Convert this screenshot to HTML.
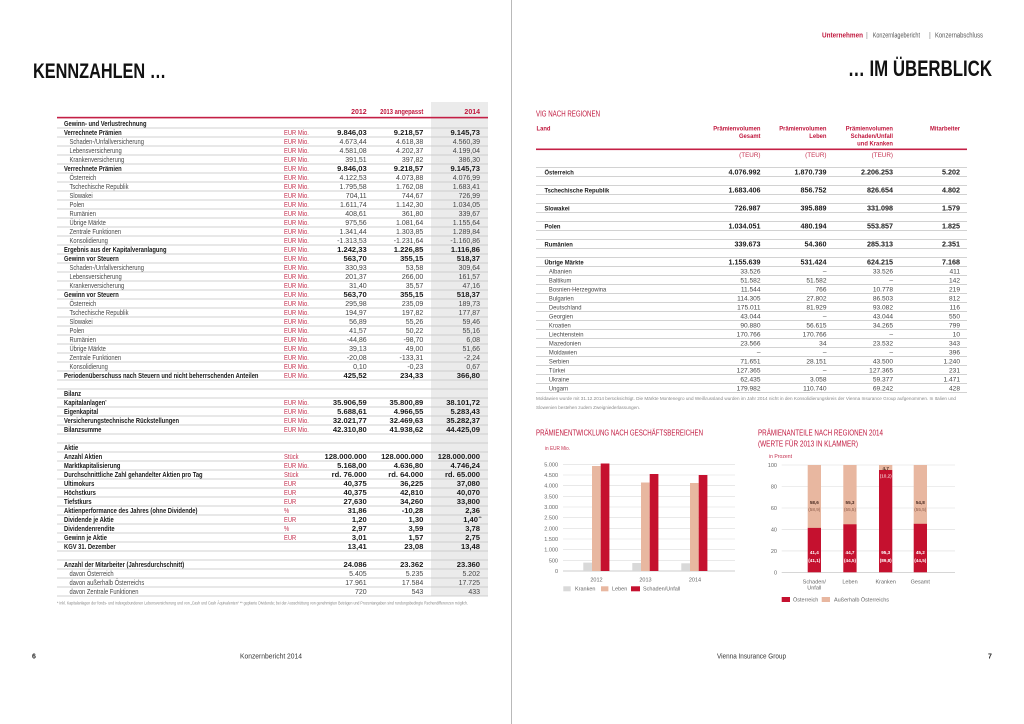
<!DOCTYPE html>
<html><head><meta charset="utf-8">
<style>html,body{margin:0;padding:0;background:#fff}svg{display:block}
.k{font-weight:bold;fill:#1a1a1a}
.rg{fill:#484848}
.nb{font-weight:bold;font-size:7.6px;fill:#1a1a1a}
.nr{font-size:7px;fill:#444}
.rb{font-weight:bold;font-size:7.2px;fill:#1a1a1a}
.rr{font-size:6.6px;fill:#444}
.red{fill:#c0173d}
.ax{font-size:5.5px;fill:#666}
</style></head>
<body>
<svg width="1024" height="724" viewBox="0 0 1024 724" font-family="'Liberation Sans', Arial, sans-serif">
<rect width="1024" height="724" fill="#fff"/>
<line x1="511.5" y1="0" x2="511.5" y2="724" stroke="#a8a8a8" stroke-width="0.8"/>

<!-- Titles -->
<text x="33" y="78" font-size="21.5" font-weight="bold" fill="#111" textLength="133" lengthAdjust="spacingAndGlyphs">KENNZAHLEN …</text>
<text x="848" y="76" font-size="22" font-weight="bold" fill="#111" textLength="144" lengthAdjust="spacingAndGlyphs">… IM ÜBERBLICK</text>

<!-- Nav -->
<text x="822" y="37.5" font-size="7" font-weight="bold" class="red" textLength="41" lengthAdjust="spacingAndGlyphs">Unternehmen</text>
<text x="866" y="37.5" font-size="7" fill="#888">|</text>
<text x="872.7" y="37.5" font-size="7" fill="#555" textLength="47.3" lengthAdjust="spacingAndGlyphs">Konzernlagebericht</text>
<text x="929" y="37.5" font-size="7" fill="#888">|</text>
<text x="935" y="37.5" font-size="7" fill="#555" textLength="48" lengthAdjust="spacingAndGlyphs">Konzernabschluss</text>

<!-- ============ LEFT TABLE ============ -->
<rect x="431" y="102" width="57" height="494" fill="#ebebeb"/>
<g font-size="7" font-weight="bold" class="red">
<text x="366.7" y="114" text-anchor="end">2012</text>
<g transform="translate(423.3 0) scale(.83 1)"><text x="0" y="114" text-anchor="end">2013 angepasst</text></g>
<text x="480" y="114" text-anchor="end">2014</text>
</g>
<rect x="57" y="116.8" width="431" height="1.6" fill="#c41f45"/>
<path fill="none" stroke="#c4c4c4" stroke-width="0.7" d="M57 128H488M57 137H488M57 146H488M57 155H488M57 164H488M57 173H488M57 182H488M57 191H488M57 200H488M57 209H488M57 218H488M57 227H488M57 236H488M57 245H488M57 254H488M57 263H488M57 272H488M57 281H488M57 290H488M57 299H488M57 308H488M57 317H488M57 326H488M57 335H488M57 344H488M57 353H488M57 362H488M57 371H488M57 380H488M57 389H488M57 398H488M57 407H488M57 416H488M57 425H488M57 434H488M57 443H488M57 452H488M57 461H488M57 470H488M57 479H488M57 488H488M57 497H488M57 506H488M57 515H488M57 524H488M57 533H488M57 542H488M57 551H488M57 560H488M57 569H488M57 578H488M57 587H488M57 596H488"/>

<g transform="translate(64 0) scale(.83 1)" font-size="7">
<text y="126" class="k">Gewinn- und Verlustrechnung</text>
<text y="135" class="k">Verrechnete Prämien</text>
<text x="6.6" y="144" class="rg">Schaden-/Unfallversicherung</text>
<text x="6.6" y="153" class="rg">Lebensversicherung</text>
<text x="6.6" y="162" class="rg">Krankenversicherung</text>
<text y="171" class="k">Verrechnete Prämien</text>
<text x="6.6" y="180" class="rg">Österreich</text>
<text x="6.6" y="189" class="rg">Tschechische Republik</text>
<text x="6.6" y="198" class="rg">Slowakei</text>
<text x="6.6" y="207" class="rg">Polen</text>
<text x="6.6" y="216" class="rg">Rumänien</text>
<text x="6.6" y="225" class="rg">Übrige Märkte</text>
<text x="6.6" y="234" class="rg">Zentrale Funktionen</text>
<text x="6.6" y="243" class="rg">Konsolidierung</text>
<text y="252" class="k">Ergebnis aus der Kapitalveranlagung</text>
<text y="261" class="k">Gewinn vor Steuern</text>
<text x="6.6" y="270" class="rg">Schaden-/Unfallversicherung</text>
<text x="6.6" y="279" class="rg">Lebensversicherung</text>
<text x="6.6" y="288" class="rg">Krankenversicherung</text>
<text y="297" class="k">Gewinn vor Steuern</text>
<text x="6.6" y="306" class="rg">Österreich</text>
<text x="6.6" y="315" class="rg">Tschechische Republik</text>
<text x="6.6" y="324" class="rg">Slowakei</text>
<text x="6.6" y="333" class="rg">Polen</text>
<text x="6.6" y="342" class="rg">Rumänien</text>
<text x="6.6" y="351" class="rg">Übrige Märkte</text>
<text x="6.6" y="360" class="rg">Zentrale Funktionen</text>
<text x="6.6" y="369" class="rg">Konsolidierung</text>
<text y="378" class="k">Periodenüberschuss nach Steuern und nicht beherrschenden Anteilen</text>
<text y="396" class="k">Bilanz</text>
<text y="405" class="k">Kapitalanlagen<tspan font-size="4" dy="-2.5">*</tspan></text>
<text y="414" class="k">Eigenkapital</text>
<text y="423" class="k">Versicherungstechnische Rückstellungen</text>
<text y="432" class="k">Bilanzsumme</text>
<text y="450" class="k">Aktie</text>
<text y="459" class="k">Anzahl Aktien</text>
<text y="468" class="k">Marktkapitalisierung</text>
<text y="477" class="k">Durchschnittliche Zahl gehandelter Aktien pro Tag</text>
<text y="486" class="k">Ultimokurs</text>
<text y="495" class="k">Höchstkurs</text>
<text y="504" class="k">Tiefstkurs</text>
<text y="513" class="k">Aktienperformance des Jahres (ohne Dividende)</text>
<text y="522" class="k">Dividende je Aktie</text>
<text y="531" class="k">Dividendenrendite</text>
<text y="540" class="k">Gewinn je Aktie</text>
<text y="549" class="k">KGV 31. Dezember</text>
<text y="567" class="k">Anzahl der Mitarbeiter (Jahresdurchschnitt)</text>
<text x="6.6" y="576" class="rg">davon Österreich</text>
<text x="6.6" y="585" class="rg">davon außerhalb Österreichs</text>
<text x="6.6" y="594" class="rg">davon Zentrale Funktionen</text>
</g>

<g transform="translate(284 0) scale(.83 1)" font-size="7" fill="#c4304f">
<text y="135">EUR Mio.</text><text y="144">EUR Mio.</text><text y="153">EUR Mio.</text><text y="162">EUR Mio.</text>
<text y="171">EUR Mio.</text><text y="180">EUR Mio.</text><text y="189">EUR Mio.</text><text y="198">EUR Mio.</text>
<text y="207">EUR Mio.</text><text y="216">EUR Mio.</text><text y="225">EUR Mio.</text><text y="234">EUR Mio.</text>
<text y="243">EUR Mio.</text><text y="252">EUR Mio.</text><text y="261">EUR Mio.</text><text y="270">EUR Mio.</text>
<text y="279">EUR Mio.</text><text y="288">EUR Mio.</text><text y="297">EUR Mio.</text><text y="306">EUR Mio.</text>
<text y="315">EUR Mio.</text><text y="324">EUR Mio.</text><text y="333">EUR Mio.</text><text y="342">EUR Mio.</text>
<text y="351">EUR Mio.</text><text y="360">EUR Mio.</text><text y="369">EUR Mio.</text><text y="378">EUR Mio.</text>
<text y="405">EUR Mio.</text><text y="414">EUR Mio.</text><text y="423">EUR Mio.</text><text y="432">EUR Mio.</text>
<text y="459">Stück</text><text y="468">EUR Mio.</text><text y="477">Stück</text><text y="486">EUR</text>
<text y="495">EUR</text><text y="504">EUR</text><text y="513">%</text><text y="522">EUR</text>
<text y="531">%</text><text y="540">EUR</text>
</g>

<!-- 2012 column -->
<g text-anchor="end">
<g transform="translate(366.7 0)">
<text y="135" class="nb">9.846,03</text><text y="144" class="nr">4.673,44</text><text y="153" class="nr">4.581,08</text><text y="162" class="nr">391,51</text>
<text y="171" class="nb">9.846,03</text><text y="180" class="nr">4.122,53</text><text y="189" class="nr">1.795,58</text><text y="198" class="nr">704,11</text>
<text y="207" class="nr">1.611,74</text><text y="216" class="nr">408,61</text><text y="225" class="nr">975,56</text><text y="234" class="nr">1.341,44</text>
<text y="243" class="nr">-1.313,53</text><text y="252" class="nb">1.242,33</text><text y="261" class="nb">563,70</text><text y="270" class="nr">330,93</text>
<text y="279" class="nr">201,37</text><text y="288" class="nr">31,40</text><text y="297" class="nb">563,70</text><text y="306" class="nr">295,98</text>
<text y="315" class="nr">194,97</text><text y="324" class="nr">56,89</text><text y="333" class="nr">41,57</text><text y="342" class="nr">-44,86</text>
<text y="351" class="nr">39,13</text><text y="360" class="nr">-20,08</text><text y="369" class="nr">0,10</text><text y="378" class="nb">425,52</text>
<text y="405" class="nb">35.906,59</text><text y="414" class="nb">5.688,61</text><text y="423" class="nb">32.021,77</text><text y="432" class="nb">42.310,80</text>
<text y="459" class="nb">128.000.000</text><text y="468" class="nb">5.168,00</text><text y="477" class="nb">rd. 76.000</text><text y="486" class="nb">40,375</text>
<text y="495" class="nb">40,375</text><text y="504" class="nb">27,630</text><text y="513" class="nb">31,86</text><text y="522" class="nb">1,20</text>
<text y="531" class="nb">2,97</text><text y="540" class="nb">3,01</text><text y="549" class="nb">13,41</text>
<text y="567" class="nb">24.086</text><text y="576" class="nr">5.405</text><text y="585" class="nr">17.961</text><text y="594" class="nr">720</text>
</g>
<g transform="translate(423.3 0)">
<text y="135" class="nb">9.218,57</text><text y="144" class="nr">4.618,38</text><text y="153" class="nr">4.202,37</text><text y="162" class="nr">397,82</text>
<text y="171" class="nb">9.218,57</text><text y="180" class="nr">4.073,88</text><text y="189" class="nr">1.762,08</text><text y="198" class="nr">744,67</text>
<text y="207" class="nr">1.142,30</text><text y="216" class="nr">361,80</text><text y="225" class="nr">1.081,64</text><text y="234" class="nr">1.303,85</text>
<text y="243" class="nr">-1.231,64</text><text y="252" class="nb">1.226,85</text><text y="261" class="nb">355,15</text><text y="270" class="nr">53,58</text>
<text y="279" class="nr">266,00</text><text y="288" class="nr">35,57</text><text y="297" class="nb">355,15</text><text y="306" class="nr">235,09</text>
<text y="315" class="nr">197,82</text><text y="324" class="nr">55,26</text><text y="333" class="nr">50,22</text><text y="342" class="nr">-98,70</text>
<text y="351" class="nr">49,00</text><text y="360" class="nr">-133,31</text><text y="369" class="nr">-0,23</text><text y="378" class="nb">234,33</text>
<text y="405" class="nb">35.800,89</text><text y="414" class="nb">4.966,55</text><text y="423" class="nb">32.469,63</text><text y="432" class="nb">41.938,62</text>
<text y="459" class="nb">128.000.000</text><text y="468" class="nb">4.636,80</text><text y="477" class="nb">rd. 64.000</text><text y="486" class="nb">36,225</text>
<text y="495" class="nb">42,810</text><text y="504" class="nb">34,260</text><text y="513" class="nb">-10,28</text><text y="522" class="nb">1,30</text>
<text y="531" class="nb">3,59</text><text y="540" class="nb">1,57</text><text y="549" class="nb">23,08</text>
<text y="567" class="nb">23.362</text><text y="576" class="nr">5.235</text><text y="585" class="nr">17.584</text><text y="594" class="nr">543</text>
</g>
<g transform="translate(480 0)">
<text y="135" class="nb">9.145,73</text><text y="144" class="nr">4.560,39</text><text y="153" class="nr">4.199,04</text><text y="162" class="nr">386,30</text>
<text y="171" class="nb">9.145,73</text><text y="180" class="nr">4.076,99</text><text y="189" class="nr">1.683,41</text><text y="198" class="nr">726,99</text>
<text y="207" class="nr">1.034,05</text><text y="216" class="nr">339,67</text><text y="225" class="nr">1.155,64</text><text y="234" class="nr">1.289,84</text>
<text y="243" class="nr">-1.160,86</text><text y="252" class="nb">1.116,86</text><text y="261" class="nb">518,37</text><text y="270" class="nr">309,64</text>
<text y="279" class="nr">161,57</text><text y="288" class="nr">47,16</text><text y="297" class="nb">518,37</text><text y="306" class="nr">189,73</text>
<text y="315" class="nr">177,87</text><text y="324" class="nr">59,46</text><text y="333" class="nr">55,16</text><text y="342" class="nr">6,08</text>
<text y="351" class="nr">51,66</text><text y="360" class="nr">-2,24</text><text y="369" class="nr">0,67</text><text y="378" class="nb">366,80</text>
<text y="405" class="nb">38.101,72</text><text y="414" class="nb">5.283,43</text><text y="423" class="nb">35.282,37</text><text y="432" class="nb">44.425,09</text>
<text y="459" class="nb">128.000.000</text><text y="468" class="nb">4.746,24</text><text y="477" class="nb">rd. 65.000</text><text y="486" class="nb">37,080</text>
<text y="495" class="nb">40,070</text><text y="504" class="nb">33,800</text><text y="513" class="nb">2,36</text><text x="-2" y="522" class="nb">1,40</text>
<text y="531" class="nb">3,78</text><text y="540" class="nb">2,75</text><text y="549" class="nb">13,48</text>
<text y="567" class="nb">23.360</text><text y="576" class="nr">5.202</text><text y="585" class="nr">17.725</text><text y="594" class="nr">433</text>
</g>
</g>
<text x="478.5" y="519" font-size="4" font-weight="bold" fill="#1a1a1a">**</text>

<text x="57" y="604.5" font-size="4.5" fill="#8a8a8a" textLength="411" lengthAdjust="spacingAndGlyphs">* Inkl. Kapitalanlagen der fonds- und indexgebundenen Lebensversicherung und von „Cash und Cash Äquivalenten“ ** geplante Dividende; bei der Ausschüttung von genehmigten Beträgen und Prozentangaben sind rundungsbedingte Rechendifferenzen möglich.</text>

<!-- ============ RIGHT TABLE ============ -->
<text x="536" y="116.5" font-size="8" class="red" textLength="64" lengthAdjust="spacingAndGlyphs">VIG NACH REGIONEN</text>
<g font-size="6.6" font-weight="bold" class="red">
<g transform="translate(536.5 0) scale(.89 1)"><text y="130.5">Land</text></g>
<g transform="translate(760.5 0) scale(.89 1)" text-anchor="end"><text y="130.5">Prämienvolumen</text><text y="138">Gesamt</text></g>
<g transform="translate(826.5 0) scale(.89 1)" text-anchor="end"><text y="130.5">Prämienvolumen</text><text y="138">Leben</text></g>
<g transform="translate(893 0) scale(.89 1)" text-anchor="end"><text y="130.5">Prämienvolumen</text><text y="138">Schaden/Unfall</text><text y="145.5">und Kranken</text></g>
<g transform="translate(960 0) scale(.89 1)" text-anchor="end"><text y="130.5">Mitarbeiter</text></g>
</g>
<rect x="536" y="148.5" width="431" height="1.6" fill="#c41f45"/>
<g font-size="6.3" fill="#c4304f" text-anchor="end">
<text x="760.5" y="157">(TEUR)</text><text x="826.5" y="157">(TEUR)</text><text x="893" y="157">(TEUR)</text>
</g>
<path fill="none" stroke="#c4c4c4" stroke-width="0.7" d="M536 167.5H967M536 176.5H967M536 185.5H967M536 194.5H967M536 203.5H967M536 212.5H967M536 221.5H967M536 230.5H967M536 239.5H967M536 248.5H967M536 257.5H967M536 266.5H967M536 275.5H967M536 284.5H967M536 293.5H967M536 302.5H967M536 311.5H967M536 320.5H967M536 329.5H967M536 338.5H967M536 347.5H967M536 356.5H967M536 365.5H967M536 374.5H967M536 383.5H967M536 392.5H967"/>

<g transform="translate(544.5 0) scale(.89 1)" font-size="6.6">
<text y="174.3" class="k">Österreich</text>
<text y="192.3" class="k">Tschechische Republik</text>
<text y="210.3" class="k">Slowakei</text>
<text y="228.3" class="k">Polen</text>
<text y="246.3" class="k">Rumänien</text>
<text y="264.3" class="k">Übrige Märkte</text>
<text x="5" y="273.3" class="rg">Albanien</text>
<text x="5" y="282.3" class="rg">Baltikum</text>
<text x="5" y="291.3" class="rg">Bosnien-Herzegowina</text>
<text x="5" y="300.3" class="rg">Bulgarien</text>
<text x="5" y="309.3" class="rg">Deutschland</text>
<text x="5" y="318.3" class="rg">Georgien</text>
<text x="5" y="327.3" class="rg">Kroatien</text>
<text x="5" y="336.3" class="rg">Liechtenstein</text>
<text x="5" y="345.3" class="rg">Mazedonien</text>
<text x="5" y="354.3" class="rg">Moldawien</text>
<text x="5" y="363.3" class="rg">Serbien</text>
<text x="5" y="372.3" class="rg">Türkei</text>
<text x="5" y="381.3" class="rg">Ukraine</text>
<text x="5" y="390.3" class="rg">Ungarn</text>
</g>

<g text-anchor="end">
<g transform="translate(760.5 0)">
<text y="174.3" class="rb">4.076.992</text><text y="192.3" class="rb">1.683.406</text><text y="210.3" class="rb">726.987</text><text y="228.3" class="rb">1.034.051</text><text y="246.3" class="rb">339.673</text><text y="264.3" class="rb">1.155.639</text>
<text y="273.3" class="rr">33.526</text><text y="282.3" class="rr">51.582</text><text y="291.3" class="rr">11.544</text><text y="300.3" class="rr">114.305</text><text y="309.3" class="rr">175.011</text><text y="318.3" class="rr">43.044</text><text y="327.3" class="rr">90.880</text><text y="336.3" class="rr">170.766</text><text y="345.3" class="rr">23.566</text><text y="354.3" class="rr">–</text><text y="363.3" class="rr">71.651</text><text y="372.3" class="rr">127.365</text><text y="381.3" class="rr">62.435</text><text y="390.3" class="rr">179.982</text>
</g>
<g transform="translate(826.5 0)">
<text y="174.3" class="rb">1.870.739</text><text y="192.3" class="rb">856.752</text><text y="210.3" class="rb">395.889</text><text y="228.3" class="rb">480.194</text><text y="246.3" class="rb">54.360</text><text y="264.3" class="rb">531.424</text>
<text y="273.3" class="rr">–</text><text y="282.3" class="rr">51.582</text><text y="291.3" class="rr">766</text><text y="300.3" class="rr">27.802</text><text y="309.3" class="rr">81.929</text><text y="318.3" class="rr">–</text><text y="327.3" class="rr">56.615</text><text y="336.3" class="rr">170.766</text><text y="345.3" class="rr">34</text><text y="354.3" class="rr">–</text><text y="363.3" class="rr">28.151</text><text y="372.3" class="rr">–</text><text y="381.3" class="rr">3.058</text><text y="390.3" class="rr">110.740</text>
</g>
<g transform="translate(893 0)">
<text y="174.3" class="rb">2.206.253</text><text y="192.3" class="rb">826.654</text><text y="210.3" class="rb">331.098</text><text y="228.3" class="rb">553.857</text><text y="246.3" class="rb">285.313</text><text y="264.3" class="rb">624.215</text>
<text y="273.3" class="rr">33.526</text><text y="282.3" class="rr">–</text><text y="291.3" class="rr">10.778</text><text y="300.3" class="rr">86.503</text><text y="309.3" class="rr">93.082</text><text y="318.3" class="rr">43.044</text><text y="327.3" class="rr">34.265</text><text y="336.3" class="rr">–</text><text y="345.3" class="rr">23.532</text><text y="354.3" class="rr">–</text><text y="363.3" class="rr">43.500</text><text y="372.3" class="rr">127.365</text><text y="381.3" class="rr">59.377</text><text y="390.3" class="rr">69.242</text>
</g>
<g transform="translate(960 0)">
<text y="174.3" class="rb">5.202</text><text y="192.3" class="rb">4.802</text><text y="210.3" class="rb">1.579</text><text y="228.3" class="rb">1.825</text><text y="246.3" class="rb">2.351</text><text y="264.3" class="rb">7.168</text>
<text y="273.3" class="rr">411</text><text y="282.3" class="rr">142</text><text y="291.3" class="rr">219</text><text y="300.3" class="rr">812</text><text y="309.3" class="rr">116</text><text y="318.3" class="rr">550</text><text y="327.3" class="rr">799</text><text y="336.3" class="rr">10</text><text y="345.3" class="rr">343</text><text y="354.3" class="rr">396</text><text y="363.3" class="rr">1.240</text><text y="372.3" class="rr">231</text><text y="381.3" class="rr">1.471</text><text y="390.3" class="rr">428</text>
</g>
</g>

<text x="536" y="400" font-size="4.5" fill="#8a8a8a" textLength="420" lengthAdjust="spacingAndGlyphs">Moldawien wurde mit 31.12.2014 berücksichtigt. Die Märkte Montenegro und Weißrussland wurden im Jahr 2014 nicht in den Konsolidierungskreis der Vienna Insurance Group aufgenommen. In Italien und</text>
<text x="536" y="409" font-size="4.5" fill="#8a8a8a" textLength="104" lengthAdjust="spacingAndGlyphs">Slowenien bestehen zudem Zweigniederlassungen.</text>

<!-- ============ CHART 1 ============ -->
<text x="536" y="435.3" font-size="8" class="red" textLength="167" lengthAdjust="spacingAndGlyphs">PRÄMIENENTWICKLUNG NACH GESCHÄFTSBEREICHEN</text>
<text x="545" y="450" font-size="5" fill="#c4304f" textLength="25" lengthAdjust="spacingAndGlyphs">in EUR Mio.</text>
<path fill="none" stroke="#dcdcdc" stroke-width="0.6" d="M563 464.3H735M563 475H735M563 485.6H735M563 496.3H735M563 507H735M563 517.7H735M563 528.3H735M563 539H735M563 549.7H735M563 560.3H735"/>
<line x1="563" y1="571" x2="735" y2="571" stroke="#bdbdbd" stroke-width="0.7"/>
<g class="ax" text-anchor="end">
<text x="558" y="466.3">5.000</text><text x="558" y="477">4.500</text><text x="558" y="487.6">4.000</text><text x="558" y="498.3">3.500</text><text x="558" y="509">3.000</text><text x="558" y="519.7">2.500</text><text x="558" y="530.3">2.000</text><text x="558" y="541">1.500</text><text x="558" y="551.7">1.000</text><text x="558" y="562.3">500</text><text x="558" y="573">0</text>
</g>
<rect x="583.3" y="562.6" width="8.7" height="8.4" fill="#d9d9d9"/>
<rect x="592" y="466" width="8.7" height="105" fill="#e8b7a0"/>
<rect x="600.7" y="463.5" width="8.7" height="107.5" fill="#c5112f"/>
<rect x="632.3" y="563" width="8.7" height="8" fill="#d9d9d9"/>
<rect x="641" y="482.5" width="8.7" height="88.5" fill="#e8b7a0"/>
<rect x="649.7" y="474" width="8.7" height="97" fill="#c5112f"/>
<rect x="681.3" y="563.3" width="8.7" height="7.7" fill="#d9d9d9"/>
<rect x="690" y="483" width="8.7" height="88" fill="#e8b7a0"/>
<rect x="698.7" y="475" width="8.7" height="96" fill="#c5112f"/>
<g class="ax" text-anchor="middle">
<text x="596.5" y="581.7">2012</text><text x="645.5" y="581.7">2013</text><text x="695" y="581.7">2014</text>
</g>
<rect x="563.3" y="586.3" width="7.4" height="5" fill="#d9d9d9"/>
<text x="575" y="590.7" class="ax">Kranken</text>
<rect x="601" y="586.3" width="7.4" height="5" fill="#e8b7a0"/>
<text x="612" y="590.7" class="ax">Leben</text>
<rect x="631" y="586.3" width="9" height="5" fill="#c5112f"/>
<text x="643" y="590.7" class="ax">Schaden/Unfall</text>

<!-- ============ CHART 2 ============ -->
<text x="758" y="435.3" font-size="8" class="red" textLength="125" lengthAdjust="spacingAndGlyphs">PRÄMIENANTEILE NACH REGIONEN 2014</text>
<text x="758" y="446.3" font-size="8" class="red" textLength="100" lengthAdjust="spacingAndGlyphs">(WERTE FÜR 2013 IN KLAMMER)</text>
<text x="769" y="458" font-size="5" fill="#c4304f" textLength="23" lengthAdjust="spacingAndGlyphs">in Prozent</text>
<path fill="none" stroke="#dcdcdc" stroke-width="0.6" d="M781.7 465H955M781.7 486.5H955M781.7 508H955M781.7 529.4H955M781.7 550.9H955"/>
<line x1="781.7" y1="572.3" x2="955" y2="572.3" stroke="#bdbdbd" stroke-width="0.7"/>
<g class="ax" text-anchor="end">
<text x="777" y="467">100</text><text x="777" y="488.5">80</text><text x="777" y="510">60</text><text x="777" y="531.4">40</text><text x="777" y="552.9">20</text><text x="777" y="574.3">0</text>
</g>
<rect x="807.7" y="465" width="13.3" height="63" fill="#e8b7a0"/>
<rect x="807.7" y="527.9" width="13.3" height="44.4" fill="#c5112f"/>
<rect x="843.3" y="465" width="13.3" height="59.5" fill="#e8b7a0"/>
<rect x="843.3" y="524.3" width="13.3" height="48" fill="#c5112f"/>
<rect x="879" y="465" width="13.3" height="5.2" fill="#e8b7a0"/>
<rect x="879" y="470" width="13.3" height="102.3" fill="#c5112f"/>
<rect x="913.7" y="465" width="13.3" height="59" fill="#e8b7a0"/>
<rect x="913.7" y="523.8" width="13.3" height="48.5" fill="#c5112f"/>
<g text-anchor="middle" font-size="4.6" font-weight="bold">
<text x="814.3" y="504" fill="#4a2b22">58,6</text><text x="814.3" y="510.8" fill="#8a5a48" font-weight="normal">(58,9)</text>
<text x="850" y="504" fill="#4a2b22">55,3</text><text x="850" y="510.8" fill="#8a5a48" font-weight="normal">(55,5)</text>
<text x="885.7" y="469.8" fill="#4a2b22">4,7</text><text x="885.7" y="477.6" fill="#fff" font-weight="normal">(10,2)</text>
<text x="920.3" y="504" fill="#4a2b22">54,8</text><text x="920.3" y="510.8" fill="#8a5a48" font-weight="normal">(55,5)</text>
<text x="814.3" y="554" fill="#fff">41,4</text><text x="814.3" y="561.8" fill="#fff">(41,1)</text>
<text x="850" y="554" fill="#fff">44,7</text><text x="850" y="561.8" fill="#fff">(44,5)</text>
<text x="885.7" y="554" fill="#fff">95,3</text><text x="885.7" y="561.8" fill="#fff">(89,8)</text>
<text x="920.3" y="554" fill="#fff">45,2</text><text x="920.3" y="561.8" fill="#fff">(44,5)</text>
</g>
<g class="ax" text-anchor="middle">
<text x="814.3" y="583.7">Schaden/</text><text x="814.3" y="589.5">Unfall</text>
<text x="850" y="583.7">Leben</text><text x="885.7" y="583.7">Kranken</text><text x="920.3" y="583.7">Gesamt</text>
</g>
<rect x="781.7" y="597" width="8.3" height="5" fill="#c5112f"/>
<text x="793" y="601.3" class="ax">Österreich</text>
<rect x="821.7" y="597" width="8.3" height="5" fill="#e8b7a0"/>
<text x="834" y="601.3" class="ax">Außerhalb Österreichs</text>

<!-- Footer -->
<text x="32" y="658.5" font-size="7" font-weight="bold" fill="#222">6</text>
<text x="240" y="658.5" font-size="7" fill="#333" textLength="62" lengthAdjust="spacingAndGlyphs">Konzernbericht 2014</text>
<text x="717" y="658.5" font-size="7" fill="#333" textLength="69" lengthAdjust="spacingAndGlyphs">Vienna Insurance Group</text>
<text x="988" y="658.5" font-size="7" font-weight="bold" fill="#222">7</text>
</svg>
</body></html>
